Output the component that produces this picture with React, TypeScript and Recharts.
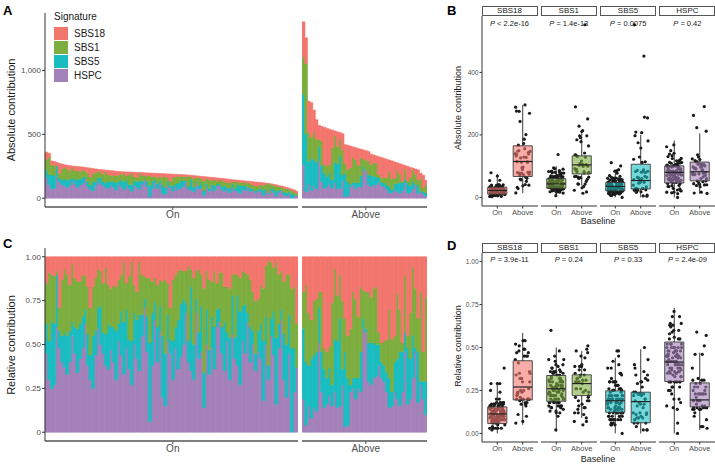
import React from 'react'
import {
  BarChart, Bar, XAxis, YAxis, ComposedChart, Scatter,
  ReferenceArea, ReferenceLine,
} from 'recharts'

const FONT = '"Liberation Sans", Arial, Helvetica, sans-serif'
const INK = '#4d4d4d'
const AXIS = '#333333'

const SIGS = ['SBS18', 'SBS1', 'SBS5', 'HSPC']
const COLORS: Record<string, string> = {
  SBS18: '#F3766E', SBS1: '#7DAE3F', SBS5: '#1BBDC1', HSPC: '#A481B9',
}

// panel A totals, sorted as in the figure
const onTotal = [
  360, 352, 292, 288, 280, 272, 268, 262, 258, 255,
  252, 250, 248, 246, 244, 241, 238, 235, 232, 229,
  226, 224, 222, 220, 218, 216, 214, 212, 210, 208,
  207, 206, 205, 204, 203, 202, 201, 200, 199, 198,
  197, 196, 195, 194, 193, 192, 191, 190, 189, 188,
  187, 186, 185, 184, 183, 181, 179, 177, 175, 173,
  171, 169, 167, 165, 163, 161, 159, 157, 155, 153,
  150, 147, 145, 143, 141, 139, 137, 135, 133, 131,
  129, 127, 125, 123, 121, 118, 115, 112, 108, 104,
  100, 95, 90, 84, 78, 72, 64, 55,
]
const aboveTotal = [
  1381, 1256, 760, 748, 690, 615, 570, 562, 555, 548,
  540, 534, 527, 520, 514, 505, 420, 414, 408, 402,
  396, 390, 384, 378, 372, 366, 345, 338, 331, 325,
  318, 312, 305, 298, 292, 284, 277, 270, 263, 256,
  249, 242, 236, 229, 222, 196, 180, 140,
]

// panel C shares (SBS18 = remainder)
const onHspc = [
  .45, .30, .25, .27, .60, .48, .40, .37, .33, .40,
  .55, .45, .34, .42, .48, .62, .38, .30, .25, .44,
  .59, .50, .45, .38, .36, .47, .40, .30, .52, .44,
  .33, .48, .36, .27, .50, .42, .35, .55, .71, .46,
  .06, .38, .64, .40, .58, .20, .15, .52, .45, .30,
  .48, .36, .43, .50, .68, .40, .35, .30, .68, .42,
  .46, .14, .50, .33, .48, .36, .60, .63, .45, .35,
  .52, .30, .56, .42, .38, .27, .52, .45, .63, .40,
  .50, .35, .46, .42, .18, .50, .30, .55, .44, .16,
  .48, .64, .30, .20, .45, .00, .23, .37,
]
const onSbs5 = [
  .17, .22, .38, .35, .30, .10, .15, .20, .22, .18,
  .08, .15, .25, .20, .18, .08, .18, .14, .30, .14,
  .12, .22, .12, .18, .26, .13, .20, .28, .10, .25,
  .30, .22, .17, .25, .18, .22, .32, .12, .05, .20,
  .45, .30, .10, .20, .14, .35, .30, .15, .08, .22,
  .12, .28, .30, .26, .06, .12, .48, .20, .08, .15,
  .26, .20, .20, .14, .18, .24, .10, .08, .15, .28,
  .05, .24, .22, .12, .40, .42, .20, .28, .05, .20,
  .08, .10, .12, .20, .34, .16, .08, .10, .25, .38,
  .14, .06, .26, .30, .22, .48, .25, .00,
]
const onSbs1 = [
  .23, .39, .27, .27, .02, .13, .32, .36, .35, .26,
  .33, .28, .27, .24, .24, .19, .27, .27, .28, .30,
  .22, .20, .28, .38, .22, .22, .24, .25, .25, .21,
  .34, .15, .36, .45, .16, .16, .30, .23, .13, .22,
  .37, .18, .14, .24, .15, .31, .42, .18, .18, .35,
  .30, .28, .20, .16, .18, .43, .10, .38, .16, .36,
  .18, .48, .22, .40, .20, .32, .15, .20, .31, .20,
  .26, .28, .12, .36, .12, .19, .20, .18, .22, .27,
  .22, .30, .18, .22, .30, .29, .60, .32, .25, .43,
  .28, .22, .30, .40, .23, .34, .35, .25,
]
const aboveHspc = [
  .19, .04, .15, .08, .14, .12, .51, .23, .14, .16,
  .21, .15, .23, .14, .15, .27, .03, .04, .23, .25,
  .19, .25, .23, .59, .57, .29, .27, .31, .32, .38,
  .31, .29, .23, .14, .15, .23, .19, .15, .23, .46,
  .16, .19, .31, .46, .17, .27, .19, .10,
]
const aboveSbs5 = [
  .40, .36, .23, .34, .30, .34, .20, .23, .22, .15,
  .16, .12, .30, .38, .50, .09, .43, .27, .04, .06,
  .12, .06, .23, .06, .02, .22, .24, .20, .18, .12,
  .09, .09, .11, .17, .08, .17, .23, .31, .23, .11,
  .32, .23, .24, .02, .29, .02, .10, .19,
]
const aboveSbs1 = [
  .21, .44, .30, .22, .31, .30, .09, .34, .12, .15,
  .12, .47, .40, .26, .25, .39, .19, .24, .32, .49,
  .45, .35, .37, .16, .21, .29, .26, .31, .33, .07,
  .11, .14, .19, .39, .30, .15, .37, .24, .05, .32,
  .07, .26, .39, .34, .19, .51, .17, .48,
]

// box stats [lo, q1, median, q3, hi], order of SIGS
const absBoxOn = [[0, 10, 22, 33, 75], [2, 29, 43, 60, 100], [0, 21, 35, 48, 88], [0, 46, 80, 101, 182]]
const absBoxAbove = [[14, 67, 115, 165, 296], [38, 75, 104, 133, 210], [0, 27, 54, 106, 200], [12, 53, 82, 113, 205]]
const relBoxOn = [[0, .058, .113, .154, .30], [.01, .187, .26, .337, .50], [0, .123, .19, .248, .44], [0, .302, .415, .532, .73]]
const relBoxAbove = [[.05, .195, .27, .423, .585], [.09, .22, .29, .341, .48], [0, .062, .185, .24, .49], [.02, .154, .195, .294, .47]]

const absP = ['< 2.2e-16', '= 1.4e-13', '= 0.0075', '= 0.42']
const relP = ['= 3.9e-11', '= 0.24', '= 0.33', '= 2.4e-09']

type Row = { id: string; HSPC: number; SBS5: number; SBS1: number; SBS18: number }

const build = (tot: number[], p: number[], t: number[], g: number[], rel: boolean, tag: string): Row[] =>
  tot.map((v, i) => {
    const s = rel ? 1 : v
    return {
      id: tag + i,
      HSPC: s * p[i], SBS5: s * t[i], SBS1: s * g[i],
      SBS18: s * Math.max(0, 1 - p[i] - t[i] - g[i]),
    }
  })

const absOn = build(onTotal, onHspc, onSbs5, onSbs1, false, 'o')
const absAbove = build(aboveTotal, aboveHspc, aboveSbs5, aboveSbs1, false, 'a')
const relOn = build(onTotal, onHspc, onSbs5, onSbs1, true, 'o')
const relAbove = build(aboveTotal, aboveHspc, aboveSbs5, aboveSbs1, true, 'a')

const jit = (j: number) => (((j * 0.618034) % 1) - 0.5) * 0.6

function StackPanel({ rows, left, top, width, height, mt, showY, domain, ticks, fmt, label }: {
  rows: Row[]; left: number; top: number; width: number; height: number; mt: number
  showY: boolean; domain: number[]; ticks: number[]; fmt: (v: number) => string; label: string
}) {
  const mid = rows[Math.floor(rows.length / 2)].id
  return (
    <div style={{ position: 'absolute', left, top }}>
      <BarChart width={width} height={height} data={rows}
        margin={{ top: mt, right: 0, bottom: 0, left: 0 }} barCategoryGap={0} barGap={0}>
        <XAxis dataKey="id" ticks={[mid]} interval={0} tickFormatter={() => label} height={18}
          axisLine={{ stroke: '#555', strokeWidth: 1.3 }} tickLine={{ stroke: '#555' }}
          tickSize={3} tickMargin={1} tick={{ fill: INK, fontSize: 10, fontFamily: FONT }} />
        <YAxis hide={!showY} width={45} type="number" domain={domain} ticks={ticks}
          tickFormatter={fmt} allowDataOverflow
          axisLine={{ stroke: AXIS }} tickLine={{ stroke: AXIS }} tickSize={3} tickMargin={1}
          tick={{ fill: INK, fontSize: 8, fontFamily: FONT }} />
        {['HSPC', 'SBS5', 'SBS1', 'SBS18'].map(k => (
          <Bar key={k} dataKey={k} stackId="s" fill={COLORS[k]} stroke={COLORS[k]} strokeWidth={0.5}
            isAnimationActive={false} />
        ))}
      </BarChart>
    </div>
  )
}

const Dot = (p: { cx?: number; cy?: number }) => <circle cx={p.cx} cy={p.cy} r={1.6} fill="#1a1a1a" />

const FacetTick = (p: { x?: number; y?: number; payload?: { value: number } }) => (
  <text x={p.x} y={(p.y ?? 0) + 6} textAnchor="middle" fill={INK} fontSize={7.5} fontFamily={FONT}>
    {p.payload?.value === 1 ? 'On' : 'Above'}
  </text>
)

type FacetProps = {
  i: number; top: number; height: number; domain: number[]; yTicks: number[]
  yFmt: (v: number) => string; boxOn: number[]; boxAbove: number[]; on: number[]; above: number[]
}

function BoxFacet({ i, top, height, domain, yTicks, yFmt, boxOn, boxAbove, on, above }: FacetProps) {
  const yw = i === 0 ? 30 : 0
  const left = 481.5 + 59.3 * i
  const color = COLORS[SIGS[i]]
  const pts = [
    ...on.map((v, j) => ({ x: 1 + jit(j), y: v })),
    ...above.map((v, j) => ({ x: 2 + jit(j + 5), y: v })),
  ]
  const boxes = [boxOn, boxAbove]
  return (
    <>
      <div style={{ position: 'absolute', left: left - yw, top }}>
        <ComposedChart width={56 + yw} height={height} margin={{ top: 10, right: 0, bottom: 0, left: 0 }}>
          <XAxis type="number" dataKey="x" domain={[0.4, 2.6]} ticks={[1, 2]} allowDataOverflow height={12}
            axisLine={{ stroke: AXIS }} tickLine={{ stroke: AXIS }} tickSize={2.5} tickMargin={0.5}
            tick={<FacetTick />} />
          <YAxis type="number" dataKey="y" hide={i !== 0} width={30} domain={domain} ticks={yTicks}
            tickFormatter={yFmt} allowDataOverflow
            axisLine={{ stroke: AXIS }} tickLine={{ stroke: AXIS }} tickSize={2.5} tickMargin={1}
            tick={{ fill: INK, fontSize: 6.5, fontFamily: FONT }} />
          <Scatter data={pts} shape={Dot} isAnimationActive={false} />
        </ComposedChart>
      </div>
      {/* boxes drawn on top of the points, same plot area */}
      <div style={{ position: 'absolute', left: left - yw, top }}>
        <ComposedChart width={56 + yw} height={height} margin={{ top: 10, right: 0, bottom: 12, left: yw }}>
          <XAxis type="number" dataKey="x" domain={[0.4, 2.6]} allowDataOverflow hide />
          <YAxis type="number" dataKey="y" domain={domain} allowDataOverflow hide />
          {boxes.map((s, k) => {
            const g = k + 1
            return [
              <ReferenceLine key={`wl${k}`} segment={[{ x: g, y: s[0] }, { x: g, y: s[1] }]} stroke="#222" strokeWidth={0.9} />,
              <ReferenceLine key={`wh${k}`} segment={[{ x: g, y: s[3] }, { x: g, y: s[4] }]} stroke="#222" strokeWidth={0.9} />,
              <ReferenceArea key={`b${k}`} x1={g - 0.375} x2={g + 0.375} y1={s[1]} y2={s[3]}
                fill={color} fillOpacity={0.6} stroke="#3a3a3a" strokeWidth={0.9} strokeOpacity={1} />,
              <ReferenceLine key={`m${k}`} segment={[{ x: g - 0.375, y: s[2] }, { x: g + 0.375, y: s[2] }]} stroke="#222" strokeWidth={1.2} />,
            ]
          })}
        </ComposedChart>
      </div>
    </>
  )
}

const txt = (extra: React.CSSProperties): React.CSSProperties => ({
  position: 'absolute', fontFamily: FONT, whiteSpace: 'nowrap', lineHeight: 1, ...extra,
})

function Facets({ top, stripTop, pTop, baseTop, rows, boxOn, boxAbove, pvals, domain, yTicks, yFmt, title, rel }: {
  top: number; stripTop: number; pTop: number; baseTop: number; rows: [Row[], Row[]]
  boxOn: number[][]; boxAbove: number[][]; pvals: string[]; domain: number[]; yTicks: number[]
  yFmt: (v: number) => string; title: string; rel: boolean
}) {
  return (
    <>
      {SIGS.map((sig, i) => {
        const left = 481.5 + 59.3 * i
        return (
          <React.Fragment key={sig}>
            <BoxFacet i={i} top={top} height={rel ? 211 : 212} domain={domain} yTicks={yTicks} yFmt={yFmt}
              boxOn={boxOn[i]} boxAbove={boxAbove[i]}
              on={rows[0].map(r => (r as any)[sig])} above={rows[1].map(r => (r as any)[sig])} />
            <div style={txt({
              left, top: stripTop, width: 56, height: 10, boxSizing: 'border-box', border: '1px solid #555',
              background: '#fff', fontSize: 8, lineHeight: '8px', textAlign: 'center', color: '#1a1a1a',
            })}>{sig}</div>
            <div style={txt({ left, top: pTop, width: 56, textAlign: 'center', fontSize: 7.5, color: '#1a1a1a' })}>
              <i>P</i> {pvals[i]}
            </div>
          </React.Fragment>
        )
      })}
      <div style={txt({ left: 598, top: baseTop, transform: 'translateX(-50%)', fontSize: 9, color: '#1a1a1a' })}>Baseline</div>
      <div style={txt({
        left: 458, top: rel ? 346 : 108, transform: 'translate(-50%, -50%) rotate(-90deg)', fontSize: 9, color: '#1a1a1a',
      })}>{title}</div>
    </>
  )
}

export default function App() {
  const absFmt = (v: number) => v.toLocaleString('en-US')
  const relFmt = (v: number) => (v === 0 ? '0' : v.toFixed(2))
  return (
    <div style={{ position: 'absolute', left: 0, top: 0, width: 715, height: 464, background: '#fff', fontFamily: FONT, overflow: 'hidden' }}>
      {/* A */}
      <StackPanel rows={absOn} left={0} top={0} width={298} height={225} mt={13} showY
        domain={[-69, 1450]} ticks={[0, 500, 1000]} fmt={absFmt} label="On" />
      <StackPanel rows={absAbove} left={302} top={0} width={125} height={225} mt={13} showY={false}
        domain={[-69, 1450]} ticks={[0, 500, 1000]} fmt={absFmt} label="Above" />
      <div style={txt({ left: 3, top: 4, fontSize: 13, fontWeight: 'bold' })}>A</div>
      <div style={txt({ left: 11, top: 110, transform: 'translate(-50%, -50%) rotate(-90deg)', fontSize: 11, color: '#1a1a1a' })}>
        Absolute contribution
      </div>
      <div style={txt({ left: 54, top: 12, fontSize: 10, color: '#1a1a1a' })}>Signature</div>
      {SIGS.map((s, i) => (
        <React.Fragment key={s}>
          <div style={{ position: 'absolute', left: 54, top: 27 + i * 14, width: 14, height: 12.5, background: COLORS[s] }} />
          <div style={txt({ left: 74, top: 29 + i * 14, fontSize: 10, color: '#1a1a1a' })}>{s}</div>
        </React.Fragment>
      ))}

      {/* C */}
      <StackPanel rows={relOn} left={0} top={230} width={298} height={229} mt={18} showY
        domain={[-0.05, 1.05]} ticks={[0, 0.25, 0.5, 0.75, 1]} fmt={relFmt} label="On" />
      <StackPanel rows={relAbove} left={302} top={230} width={125} height={229} mt={18} showY={false}
        domain={[-0.05, 1.05]} ticks={[0, 0.25, 0.5, 0.75, 1]} fmt={relFmt} label="Above" />
      <div style={txt({ left: 3, top: 237, fontSize: 13, fontWeight: 'bold' })}>C</div>
      <div style={txt({ left: 11, top: 345, transform: 'translate(-50%, -50%) rotate(-90deg)', fontSize: 11, color: '#1a1a1a' })}>
        Relative contribution
      </div>

      {/* B */}
      <div style={txt({ left: 447, top: 4, fontSize: 13, fontWeight: 'bold' })}>B</div>
      <Facets top={6} stripTop={6} pTop={20} baseTop={217} rows={[absOn, absAbove]} boxOn={absBoxOn}
        boxAbove={absBoxAbove} pvals={absP} domain={[-27.6, 580.6]} yTicks={[0, 200, 400]}
        yFmt={(v: number) => String(v)} title="Absolute contribution" rel={false} />

      {/* D */}
      <div style={txt({ left: 447, top: 239, fontSize: 13, fontWeight: 'bold' })}>D</div>
      <Facets top={243} stripTop={243} pTop={256} baseTop={455} rows={[relOn, relAbove]} boxOn={relBoxOn}
        boxAbove={relBoxAbove} pvals={relP} domain={[-0.05, 1.05]} yTicks={[0, 0.25, 0.5, 0.75, 1]}
        yFmt={(v: number) => v.toFixed(2)} title="Relative contribution" rel />
    </div>
  )
}
